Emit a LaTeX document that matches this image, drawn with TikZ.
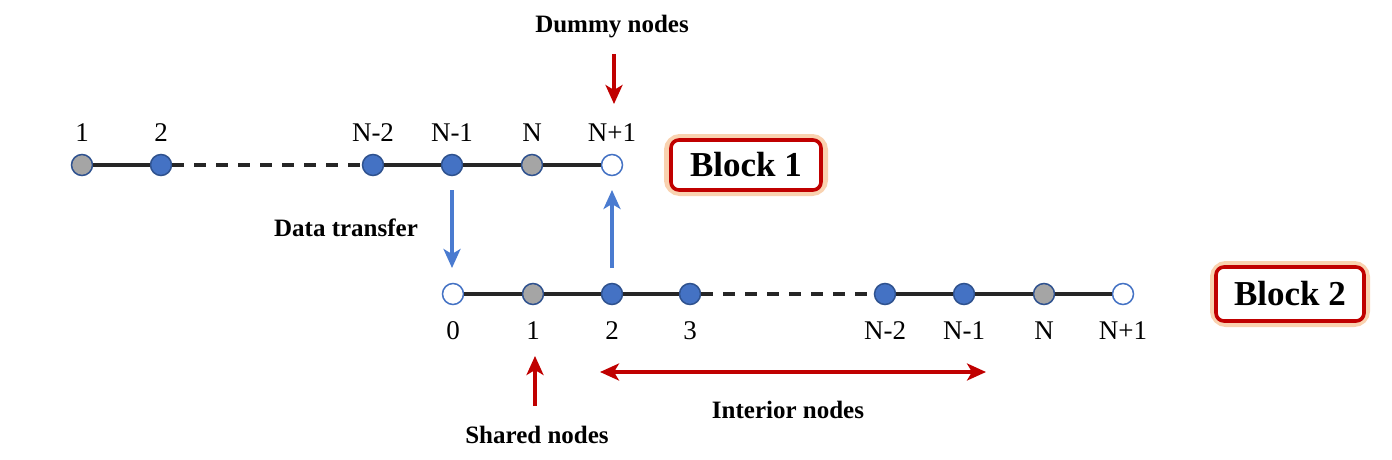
\documentclass[tikz,border=0pt]{standalone}
\usepackage{fontspec}
\setmainfont{Liberation Serif}
\usetikzlibrary{arrows.meta}
\definecolor{nblue}{HTML}{4472C4}
\definecolor{nedge}{HTML}{2F528F}
\definecolor{ngray}{HTML}{A5A5A5}
\definecolor{ared}{HTML}{C00000}
\definecolor{ablue}{HTML}{4A7BD0}
\definecolor{glow}{HTML}{F9D2B0}
\begin{document}
\begin{tikzpicture}[x=1pt,y=-1pt,
  pt/.style={circle,minimum size=21pt,inner sep=0pt,line width=1.5pt,draw=nedge},
  bluept/.style={pt,fill=nblue},
  graypt/.style={pt,fill=ngray},
  whitept/.style={pt,fill=white,draw=nblue},
  seg/.style={line width=3.6pt,black!85},
  dseg/.style={seg,dash pattern=on 12pt off 10pt},
  lab/.style={font=\fontsize{27}{27}\selectfont,inner sep=0pt},
  blab/.style={font=\bfseries\fontsize{25}{25}\selectfont,inner sep=0pt},
  redarr/.style={line width=3.2pt,ared,-{Stealth[length=19pt,width=17pt,inset=5pt]}},
  bluearr/.style={line width=3.2pt,ablue,-{Stealth[length=19pt,width=17pt,inset=5pt]}},
  blockbox/.style={draw=ared,line width=3.6pt,rounded corners=8pt,fill=white,
     minimum width=150pt,minimum height=50pt,font=\bfseries\fontsize{35}{35}\selectfont}
]
\useasboundingbox (0,0) rectangle (1392,460);
% top block
\node[graypt] (a1) at (82,165) {};
\node[bluept] (a2) at (161,165) {};
\node[bluept] (a3) at (373,165) {};
\node[bluept] (a4) at (452,165) {};
\node[graypt] (a5) at (532,165) {};
\node[whitept] (a6) at (612,165) {};
\draw[seg] (a1) -- (a2);
\draw[dseg] (a2) -- (a3);
\draw[seg] (a3) -- (a4);
\draw[seg] (a4) -- (a5);
\draw[seg] (a5) -- (a6);
\node[lab] at (82,133) {1};
\node[lab] at (161,133) {2};
\node[lab] at (373,133) {N-2};
\node[lab] at (452,133) {N-1};
\node[lab] at (532,133) {N};
\node[lab] at (612,133) {N+1};
% bottom block
\node[whitept] (b0) at (453,294) {};
\node[graypt] (b1) at (533,294) {};
\node[bluept] (b2) at (612,294) {};
\node[bluept] (b3) at (690,294) {};
\node[bluept] (b4) at (885,294) {};
\node[bluept] (b5) at (964,294) {};
\node[graypt] (b6) at (1044,294) {};
\node[whitept] (b7) at (1123,294) {};
\draw[seg] (b0) -- (b1);
\draw[seg] (b1) -- (b2);
\draw[seg] (b2) -- (b3);
\draw[dseg] (b3) -- (b4);
\draw[seg] (b4) -- (b5);
\draw[seg] (b5) -- (b6);
\draw[seg] (b6) -- (b7);
\node[lab] at (453,331) {0};
\node[lab] at (533,331) {1};
\node[lab] at (612,331) {2};
\node[lab] at (690,331) {3};
\node[lab] at (885,331) {N-2};
\node[lab] at (964,331) {N-1};
\node[lab] at (1044,331) {N};
\node[lab] at (1123,331) {N+1};
% blocks
\draw[glow,line width=12pt,rounded corners=10pt] (670,140) rectangle (822,190);
\node[blockbox] (blk1) at (746,165) {Block 1};
\draw[glow,line width=12pt,rounded corners=10pt] (1216,267) rectangle (1364,321);
\node[blockbox,minimum width=148pt,minimum height=54pt] (blk2) at (1290,294) {Block 2};
% annotations
\node[blab] (dummy) at (612,27) {Dummy nodes};
\coordinate (dtop) at (614,54);
\coordinate (dbot) at (614,104);
\draw[redarr] (dtop) -- (dbot);
\node[blab] (dt) at (346,228) {Data transfer};
\coordinate (t1) at (452,190);
\coordinate (t2) at (452,268);
\draw[bluearr] (t1) -- (t2);
\coordinate (u1) at (612,268);
\coordinate (u2) at (612,190);
\draw[bluearr] (u1) -- (u2);
\node[blab] (shared) at (537,435) {Shared nodes};
\coordinate (s1) at (535,406);
\coordinate (s2) at (535,356);
\draw[redarr] (s1) -- (s2);
\coordinate (i1) at (600,372);
\coordinate (i2) at (986,372);
\draw[line width=3.2pt,ared,{Stealth[length=19pt,width=17pt,inset=5pt]}-{Stealth[length=19pt,width=17pt,inset=5pt]}] (i1) -- (i2);
\node[blab] (interior) at (788,410) {Interior nodes};
\end{tikzpicture}
\end{document}
